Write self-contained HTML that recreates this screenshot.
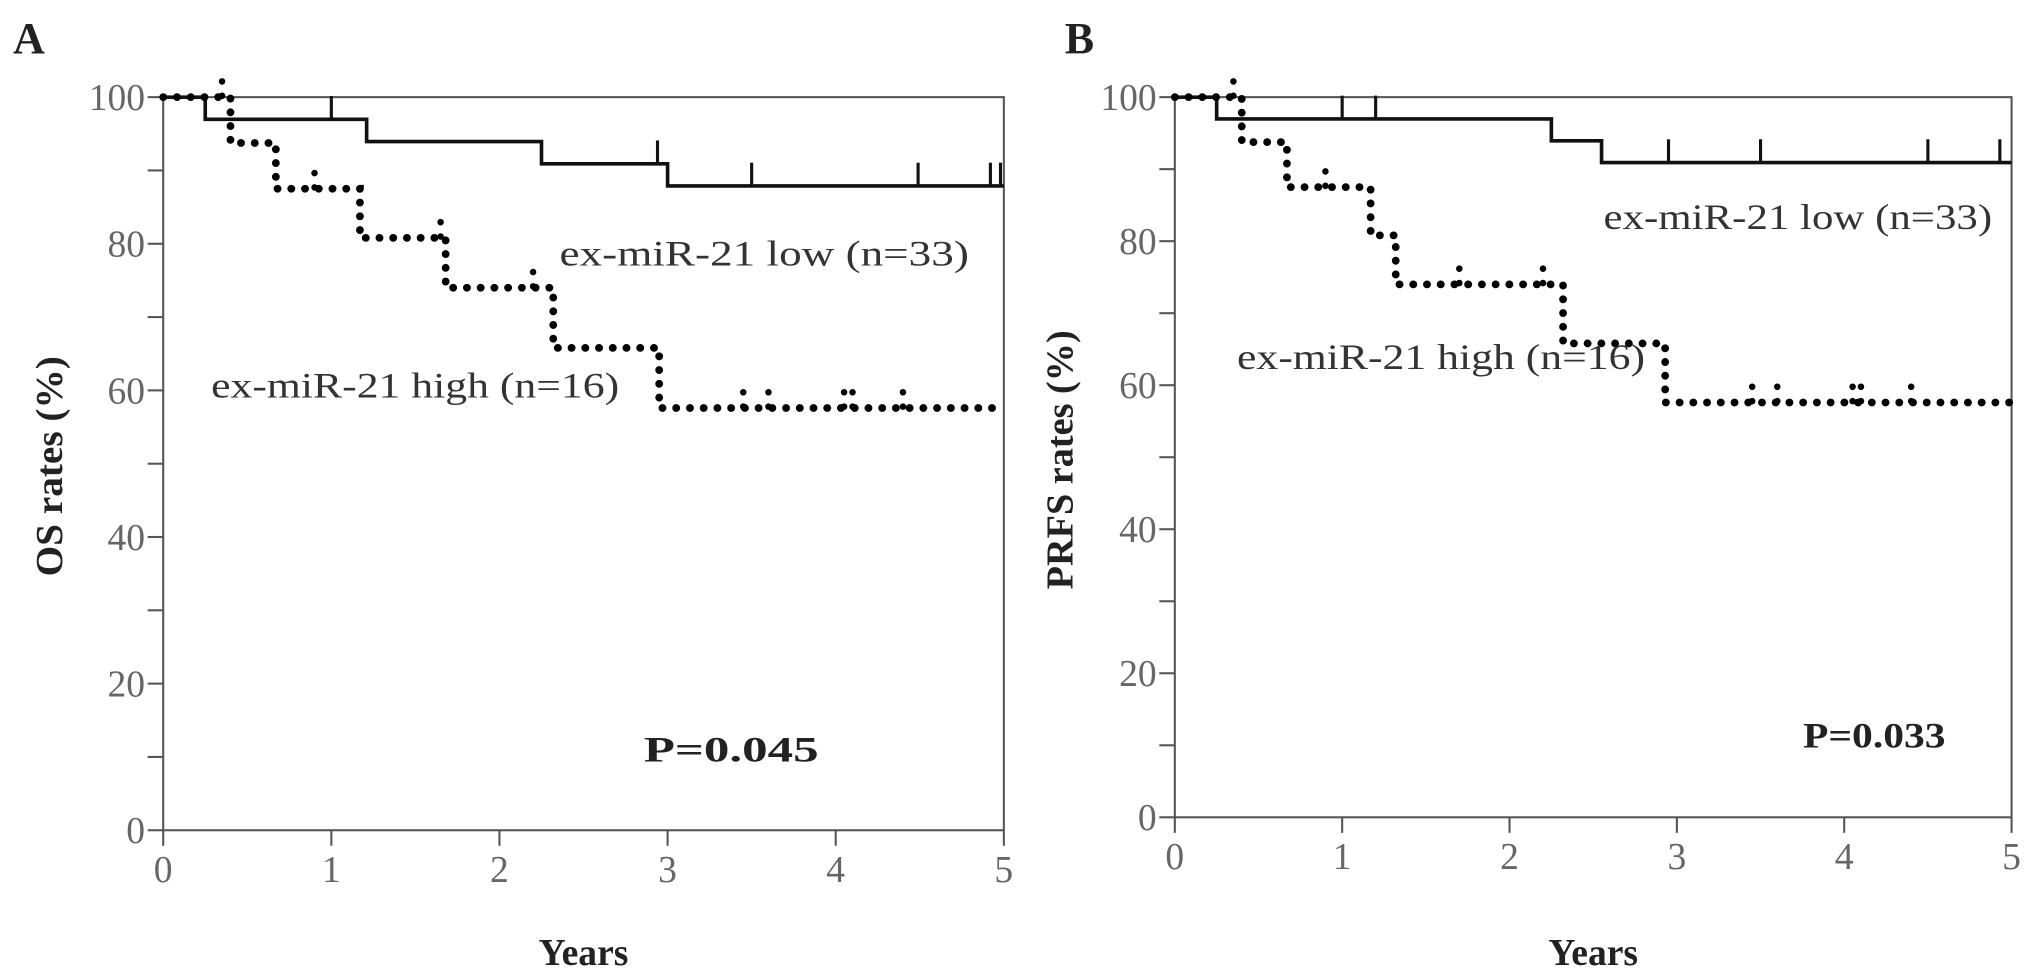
<!DOCTYPE html>
<html><head><meta charset="utf-8"><style>
html,body{margin:0;padding:0;background:#fff;}
svg{display:block;}
text{font-family:"Liberation Serif",serif;}
.tick{fill:#666;font-size:29px;}
.lbl{fill:#333;font-size:28px;}
.bold{font-weight:bold;fill:#222;}
</style></head><body>
<svg id="chart" width="2031" height="977" viewBox="0 0 1568 754.3" preserveAspectRatio="none" xmlns="http://www.w3.org/2000/svg"></svg>
<script>
// Panel A data (OS)
const aLowTimes=[0,0.25,1.21,2.25,3.0];
const aLowVals=[100,96.97,93.94,90.91,87.88];
const aLowCens=[1.0,2.94,3.5,4.49,4.92,4.98];
const aHighTimes=[0,0.4,0.67,1.17,1.68,2.32,2.95];
const aHighVals=[100,93.75,87.5,80.8,74.0,65.8,57.6];
const aHighCens=[0.35,0.9,1.65,2.2,3.45,3.6,4.05,4.1,4.4];
// Panel B data (PRFS)
const bLowTimes=[0,0.25,2.25,2.55];
const bLowVals=[100,96.97,93.94,90.91];
const bLowCens=[1.0,1.2,2.95,3.5,4.5,4.93];
const bHighTimes=[0,0.4,0.67,1.17,1.32,2.32,2.93];
const bHighVals=[100,93.75,87.5,80.8,74.0,65.8,57.6];
const bHighCens=[0.35,0.9,1.7,2.2,3.45,3.6,4.05,4.1,4.4];
const yTicks=[0,20,40,60,80,100];
const xTicks=[0,1,2,3,4,5];

const NS="http://www.w3.org/2000/svg";
const svg=document.getElementById('chart');
function mk(tag,attrs,parent){const e=document.createElementNS(NS,tag);for(const k in attrs)e.setAttribute(k,attrs[k]);(parent||svg).appendChild(e);return e;}

function panel(cfg){
  const g=mk('g',{});
  
  
  const X=t=>cfg.x0+(cfg.x1-cfg.x0)*t/5;
  const Y=v=>cfg.y0+(cfg.y100-cfg.y0)*v/100;
  const fr=mk('rect',{x:cfg.x0,y:cfg.y100,width:cfg.x1-cfg.x0,height:cfg.y0-cfg.y100,fill:'none',stroke:'#555','stroke-width':1.6},g);
  
  
  for(let v=0;v<=100;v+=10){
    const t=mk('line',{x1:cfg.x0-12,x2:cfg.x0,y1:Y(v),y2:Y(v),stroke:'#555','stroke-width':1.6},g);
    
    
  }
  yTicks.forEach(v=>{
    const t=mk('text',{x:cfg.x0-14,y:Y(v)+10,'text-anchor':'end',class:'tick'},g);
    
    
    t.textContent=v;
  });
  xTicks.forEach(v=>{
    const l=mk('line',{x1:X(v),x2:X(v),y1:cfg.y0,y2:cfg.y0+12,stroke:'#555','stroke-width':1.6},g);
    
    
    const t=mk('text',{x:X(v),y:cfg.y0+40,'text-anchor':'middle',class:'tick'},g);
    
    
    t.textContent=v;
  });
  function stepPath(ts,vs){let d='M'+X(ts[0])+' '+Y(vs[0]);for(let i=1;i<ts.length;i++){d+=' H'+X(ts[i])+' V'+Y(vs[i]);}d+=' H'+X(5);return d;}
  function valAt(ts,vs,t){let v=vs[0];for(let i=0;i<ts.length;i++)if(ts[i]<=t)v=vs[i];return v;}
  const lp=mk('path',{d:stepPath(cfg.lowT,cfg.lowV),fill:'none',stroke:'#111','stroke-width':2.8},g);
  
  
  cfg.lowC.forEach(t=>{
    const y=Y(valAt(cfg.lowT,cfg.lowV,t));
    const c=mk('line',{x1:X(t),x2:X(t),y1:y,y2:y-18,stroke:'#111','stroke-width':2.4},g);
    
    
  });
  const hp=mk('path',{d:stepPath(cfg.highT,cfg.highV),fill:'none',stroke:'#000','stroke-width':6,'stroke-linecap':'round','stroke-dasharray':'0.1 10.5'},g);
  
  
  cfg.highC.forEach(t=>{
    const y=Y(valAt(cfg.highT,cfg.highV,t));
    const c=mk('line',{x1:X(t),x2:X(t),y1:y-1,y2:y-14,stroke:'#000','stroke-width':5,'stroke-linecap':'round','stroke-dasharray':'0.1 11'},g);
    
    
  });
  const tx=(s,x,y,cls,len,name,extra)=>{const a={x:x,y:y,class:cls};if(len){a.textLength=len;a.lengthAdjust='spacingAndGlyphs';}Object.assign(a,extra||{});const t=mk('text',a,g);t.textContent=s;return t;};
  tx(cfg.letter,cfg.letterX,41,'bold',0,'panel-label',{style:'font-size:34px'});
  tx('ex-miR-21 low (n=33)',cfg.lowLbl[0],cfg.lowLbl[1],'lbl',cfg.lowLbl[2],'low-group-label');
  tx('ex-miR-21 high (n=16)',cfg.highLbl[0],cfg.highLbl[1],'lbl',cfg.highLbl[2],'high-group-label');
  tx(cfg.p,cfg.pLbl[0],cfg.pLbl[1],'bold',cfg.pLbl[2],'p-value',{style:'font-size:28px'});
  tx('Years',(cfg.x0+cfg.x1)/2,745,'bold',0,'x-axis-title',{'text-anchor':'middle',style:'font-size:29px'});
  tx(cfg.ytitle,0,0,'bold',cfg.ytLen,'y-axis-title',{'text-anchor':'middle',style:'font-size:29px',transform:'translate('+cfg.ytX+' '+cfg.ytY+') rotate(-90)'});
}
panel({name:'panel-a-os',letter:'A',letterX:10,x0:126,x1:775,y0:641,y100:75,
  lowT:aLowTimes,lowV:aLowVals,lowC:aLowCens,highT:aHighTimes,highV:aHighVals,highC:aHighCens,
  lowLbl:[432,205,316],highLbl:[163,307,315],pLbl:[497,588,135],p:'P=0.045',
  ytitle:'OS rates (%)',ytX:48,ytY:360,ytLen:170});
panel({name:'panel-b-prfs',letter:'B',letterX:822,x0:907,x1:1553,y0:631,y100:75,
  lowT:bLowTimes,lowV:bLowVals,lowC:bLowCens,highT:bHighTimes,highV:bHighVals,highC:bHighCens,
  lowLbl:[1238,177,300],highLbl:[955,285,315],pLbl:[1392,577,110],p:'P=0.033',
  ytitle:'PRFS rates (%)',ytX:828,ytY:355,ytLen:200});
</script>
</body></html>
